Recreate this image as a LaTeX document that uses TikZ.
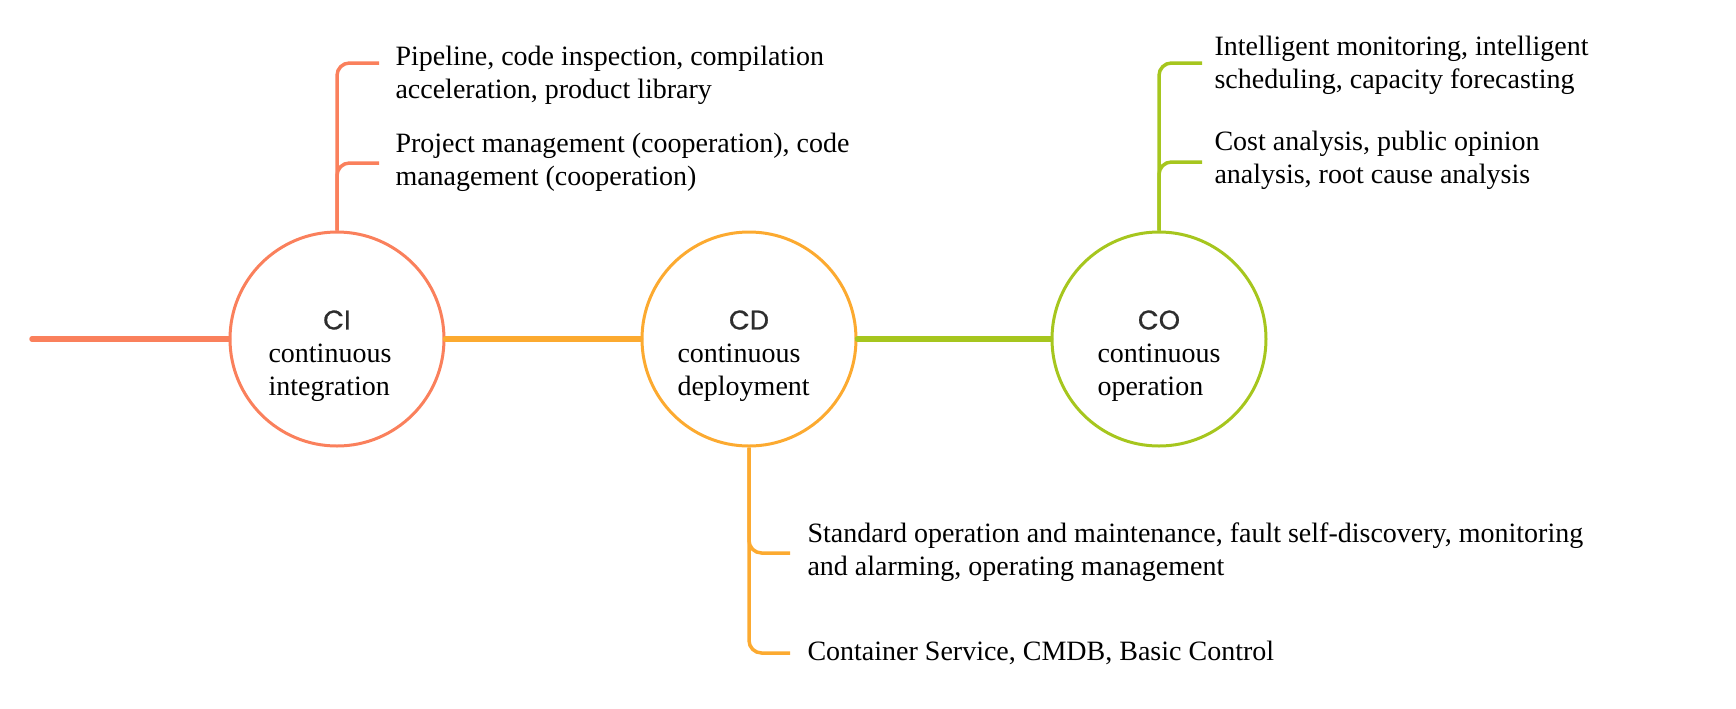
\documentclass[tikz,border=0pt]{standalone}
\usepackage{fontspec}
\setmainfont{Liberation Serif}
\newfontfamily\stagefont{Poppins}[FakeBold=0.8]
\definecolor{ciorange}{RGB}{250,128,92}
\definecolor{cdorange}{RGB}{252,170,48}
\definecolor{cogreen}{RGB}{166,198,30}
\definecolor{stagegray}{RGB}{45,45,45}

\begin{document}
\begin{tikzpicture}[x=0.4pt, y=-0.4pt,
    stage/.style={circle, draw, line width=1.2pt, minimum size=85.6pt, inner sep=0pt},
    stagename/.style={font=\stagefont\fontsize{10.8}{12}\selectfont, text=stagegray, inner sep=0pt},
    stagetext/.style={font=\fontsize{11.2}{13.2}\selectfont, align=left, anchor=base west, inner sep=0pt},
    itemtext/.style={font=\fontsize{11.2}{13.2}\selectfont, align=left, anchor=base west, inner sep=0pt},
    mainline/.style={line width=2.2pt, line cap=round},
    branch/.style={line width=1.4pt, rounded corners=5pt}]
        \useasboundingbox (0,0) rectangle (1736,708);

        \node[stage, ciorange] (ci) at (337,339) {};
        \node[stage, cdorange] (cd) at (749,339) {};
        \node[stage, cogreen] (co) at (1159,339) {};

        \node[stagename] (ci name) at (337,320) {CI};
        \node[stagename] (cd name) at (749,320) {CD};
        \node[stagename] (co name) at (1159,320) {CO};
        \node[stagetext] (ci text) at (268,395) {continuous\\integration};
        \node[stagetext] (cd text) at (677,395) {continuous\\deployment};
        \node[stagetext] (co text) at (1097,395) {continuous\\operation};

        \coordinate (start) at (32,339);
        \draw[mainline, ciorange] (start) -- (ci.west);
        \draw[mainline, cdorange] (ci.east) -- (cd.west);
        \draw[mainline, cogreen] (cd.east) -- (co.west);

        \coordinate (ci b1) at (379,63);
        \coordinate (ci b2) at (379,163);
        \coordinate (cd b1) at (790,553);
        \coordinate (cd b2) at (790,653);
        \coordinate (co b1) at (1202,63);
        \coordinate (co b2) at (1202,162);
        \draw[branch, ciorange] (ci.north) |- (ci b1);
        \draw[branch, ciorange] (ci.north) |- (ci b2);
        \draw[branch, cdorange] (cd.south) |- (cd b1);
        \draw[branch, cdorange] (cd.south) |- (cd b2);
        \draw[branch, cogreen] (co.north) |- (co b1);
        \draw[branch, cogreen] (co.north) |- (co b2);

        \node[itemtext] (ci t1) at (395,98) {Pipeline, code inspection, compilation\\acceleration, product library};
        \node[itemtext] (ci t2) at (395,185) {Project management (cooperation), code\\management (cooperation)};
        \node[itemtext] (cd t1) at (807,575) {Standard operation and maintenance, fault self-discovery, monitoring\\and alarming, operating management};
        \node[itemtext] (cd t2) at (807,660) {Container Service, CMDB, Basic Control};
        \node[itemtext] (co t1) at (1214,88) {Intelligent monitoring, intelligent\\scheduling, capacity forecasting};
        \node[itemtext] (co t2) at (1214,183) {Cost analysis, public opinion\\analysis, root cause analysis};
    \end{tikzpicture}
\end{document}
